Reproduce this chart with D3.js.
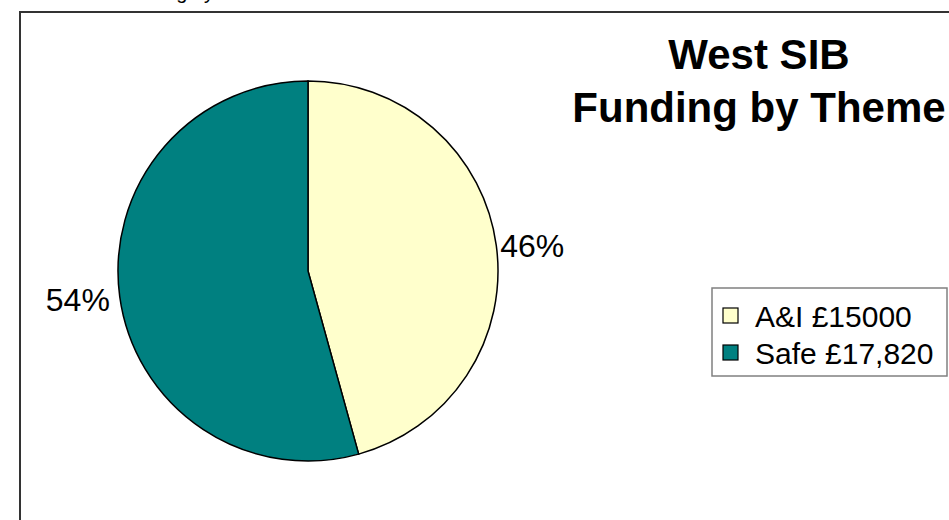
<!DOCTYPE html>
<html>
<head>
<meta charset="utf-8">
<script src="https://cdn.jsdelivr.net/npm/d3@7"></script>
<style>
  html, body { margin: 0; padding: 0; background: #fff; }
  svg { display: block; font-family: "Liberation Sans", Arial, sans-serif; }
</style>
</head>
<body>
<svg id="chart" width="949" height="520"></svg>
<script>
const themes = ['A&I', 'Safe'];
const amounts = [15000, 17820];
const legendLabels = ['A&I £15000', 'Safe £17,820'];
const colors = ['#FFFFCC', '#008080'];
const titleLines = ['West SIB', 'Funding by Theme'];

const svg = d3.select('#chart');

// clipped text from the previous page, only descenders show
svg.append('text')
  .attr('x', 115)
  .attr('y', -1)
  .style('font-size', '20px')
  .text('Funding by Theme');

// chart frame, runs off the right and bottom edges
svg.append('rect')
  .attr('x', 20)
  .attr('y', 12)
  .attr('width', 1000)
  .attr('height', 600)
  .style('fill', 'none')
  .style('stroke', '#333')
  .style('stroke-width', 2);

const cx = 308, cy = 271, radius = 190;

const pie = d3.pie().sort(null).value(d => d.value);
const arcs = pie(themes.map((t, i) => ({ theme: t, value: amounts[i], color: colors[i] })));
const total = d3.sum(amounts);

const arc = d3.arc().innerRadius(0).outerRadius(radius);
const labelArc = d3.arc().innerRadius(radius + 10).outerRadius(radius + 10);

const g = svg.append('g').attr('transform', `translate(${cx},${cy})`);

g.selectAll('.slice')
  .data(arcs)
  .enter()
    .append('path')
    .classed('slice', true)
    .attr('d', arc)
    .style('fill', d => d.data.color)
    .style('stroke', '#000')
    .style('stroke-width', 1.5);

g.selectAll('.pct')
  .data(arcs)
  .enter()
    .append('text')
    .classed('pct', true)
    .attr('x', d => {
      const [x] = labelArc.centroid(d);
      return x < 0 ? x : x - 6;
    })
    .attr('y', d => labelArc.centroid(d)[1] + 2)
    .attr('text-anchor', d => labelArc.centroid(d)[0] < 0 ? 'end' : 'start')
    .attr('dominant-baseline', 'central')
    .style('font-size', '32px')
    .text(d => Math.round(d.data.value / total * 100) + '%');

// title
svg.selectAll('.title')
  .data(titleLines)
  .enter()
    .append('text')
    .classed('title', true)
    .attr('x', 759)
    .attr('y', (d, i) => 69 + i * 53)
    .attr('text-anchor', 'middle')
    .style('font-size', '42px')
    .style('font-weight', 'bold')
    .text(d => d);

// legend
const legend = svg.append('g').attr('transform', 'translate(712,288)');
legend.append('rect')
  .attr('width', 235)
  .attr('height', 88)
  .style('fill', '#fff')
  .style('stroke', '#808080')
  .style('stroke-width', 1.5);

const items = legend.selectAll('.item')
  .data(legendLabels)
  .enter()
    .append('g')
    .classed('item', true)
    .attr('transform', (d, i) => `translate(11,${20 + i * 37})`);

items.append('rect')
  .attr('width', 15)
  .attr('height', 15)
  .style('fill', (d, i) => colors[i])
  .style('stroke', '#000')
  .style('stroke-width', 1.2);

items.append('text')
  .attr('x', 32)
  .attr('y', 8)
  .attr('dominant-baseline', 'central')
  .style('font-size', '30px')
  .text(d => d);
</script>
</body>
</html>
